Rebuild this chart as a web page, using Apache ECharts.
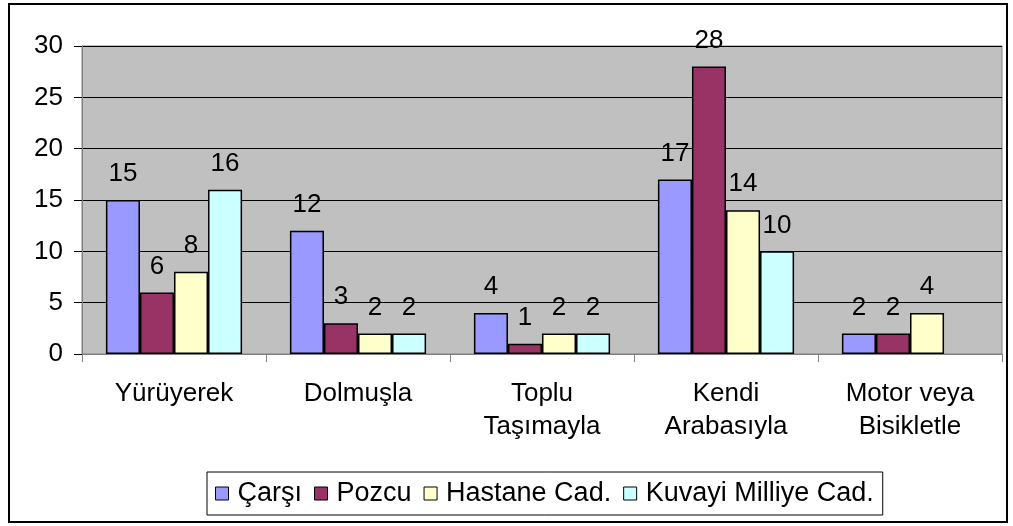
<!DOCTYPE html>
<html>
<head>
<meta charset="utf-8">
<script src="https://cdn.jsdelivr.net/npm/echarts@6/dist/echarts.min.js"></script>
<style>
html, body { margin: 0; padding: 0; background: #fff; }
#box { width: 1013px; height: 526px; }
</style>
</head>
<body>
<div id="box"></div>
<script>
// kategoriler ve seriler
const categories = ['Yürüyerek', 'Dolmuşla', 'Toplu\nTaşımayla', 'Kendi\nArabasıyla', 'Motor veya\nBisikletle']
const seriesNames = ['Çarşı', 'Pozcu', 'Hastane Cad.', 'Kuvayi Milliye Cad.']
const carsi = [15, 12, 4, 17, 2]
const pozcu = [6, 3, 1, 28, 2]
const hastane = [8, 2, 2, 14, 4]
const kuvayi = [16, 2, 2, 10, 0]
const yTicks = [0, 5, 10, 15, 20, 25, 30]

const colors = ['#9999FF', '#993366', '#FFFFCC', '#CCFFFF']
const font = 'Liberation Sans, Arial, sans-serif'

const myChart = echarts.init(document.getElementById('box'))

const makeSeries = (name, data, i) => ({
  name: name,
  type: 'bar',
  // 0 olan çubuk çizilmiyor
  data: data.map(v => (v === 0 ? '-' : v)),
  barGap: '0%',
  barCategoryGap: '26%',
  itemStyle: { color: colors[i], borderColor: '#000', borderWidth: 1.5 },
  label: {
    show: true,
    position: 'top',
    distance: 13,
    color: '#000',
    fontFamily: font,
    fontSize: 26
  }
})

const option = {
  animation: false,
  graphic: [{
    type: 'rect',
    shape: { x: 9, y: 4, width: 998, height: 518 },
    style: { fill: 'none', stroke: '#000', lineWidth: 2 },
    silent: true
  }],
  grid: {
    left: 82,
    right: 11,
    top: 46,
    bottom: 172,
    show: true,
    backgroundColor: '#C0C0C0',
    borderColor: '#808080',
    borderWidth: 1
  },
  legend: {
    data: seriesNames,
    left: 207,
    top: 472,
    icon: 'rect',
    itemWidth: 13,
    itemHeight: 13,
    itemGap: 12,
    padding: [8, 9, 8, 8],
    borderColor: '#000',
    borderWidth: 1,
    itemStyle: { borderColor: '#000', borderWidth: 1 },
    textStyle: { color: '#000', fontFamily: font, fontSize: 27, padding: [0, 0, 0, 4] }
  },
  xAxis: {
    type: 'category',
    data: categories,
    axisLine: { lineStyle: { color: '#808080', width: 1 } },
    axisTick: { show: true, length: 8, lineStyle: { color: '#808080' } },
    axisLabel: {
      color: '#000',
      fontFamily: font,
      fontSize: 26,
      lineHeight: 33,
      margin: 23
    }
  },
  yAxis: {
    type: 'value',
    min: yTicks[0],
    max: yTicks[yTicks.length - 1],
    interval: 5,
    axisLine: { show: true, lineStyle: { color: '#808080' } },
    axisTick: { show: true, length: 8, lineStyle: { color: '#000' } },
    splitLine: { lineStyle: { color: '#000', width: 1 } },
    axisLabel: {
      color: '#000',
      fontFamily: font,
      fontSize: 26,
      margin: 19
    }
  },
  series: [
    makeSeries(seriesNames[0], carsi, 0),
    makeSeries(seriesNames[1], pozcu, 1),
    makeSeries(seriesNames[2], hastane, 2),
    makeSeries(seriesNames[3], kuvayi, 3)
  ]
}

myChart.setOption(option)
</script>
</body>
</html>
